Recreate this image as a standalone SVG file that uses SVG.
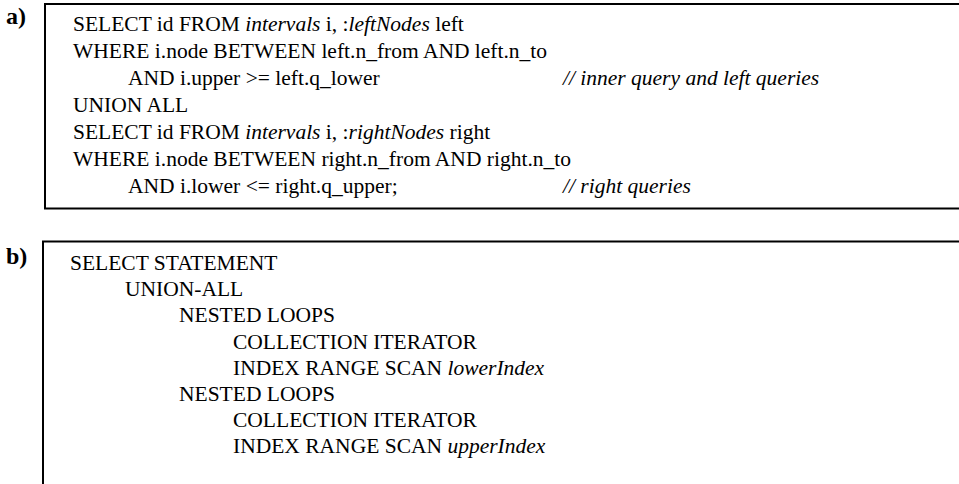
<svg xmlns="http://www.w3.org/2000/svg" width="959" height="484" viewBox="0 0 959 484">
  <style>
    .frame { fill: none; stroke: #000; stroke-width: 2; }
    .label { font-family: "Liberation Serif", "Times New Roman", serif; font-weight: bold; font-size: 24px; fill: #000; }
    .code { font-family: "Liberation Serif", "Times New Roman", serif; font-size: 21.5px; fill: #000; }
    .it { font-style: italic; }
  </style>
  <rect width="959" height="484" fill="#fff"/>

  <!-- a) SQL query panel -->
  <g id="panel-a">
    <text class="label" x="6" y="24">a)</text>
    <path class="frame" d="M 961 4 H 45 V 208.5 H 961"/>
    <text class="code" x="73" y="31">SELECT id FROM <tspan class="it">intervals</tspan> i, :<tspan class="it">leftNodes</tspan> left</text>
    <text class="code" x="73" y="58">WHERE i.node BETWEEN left.n_from AND left.n_to</text>
    <text class="code" x="128" y="85">AND i.upper &gt;= left.q_lower</text>
    <text class="code it" x="563" y="85">// inner query and left queries</text>
    <text class="code" x="73" y="112">UNION ALL</text>
    <text class="code" x="73" y="139">SELECT id FROM <tspan class="it">intervals</tspan> i, :<tspan class="it">rightNodes</tspan> right</text>
    <text class="code" x="73" y="166">WHERE i.node BETWEEN right.n_from AND right.n_to</text>
    <text class="code" x="128" y="193">AND i.lower &lt;= right.q_upper;</text>
    <text class="code it" x="563" y="193">// right queries</text>
  </g>

  <!-- b) execution plan panel -->
  <g id="panel-b">
    <text class="label" x="6" y="264">b)</text>
    <path class="frame" d="M 961 241.5 H 43 V 486"/>
    <text class="code" x="70" y="270">SELECT STATEMENT</text>
    <text class="code" x="125" y="296.2">UNION-ALL</text>
    <text class="code" x="179" y="322.4">NESTED LOOPS</text>
    <text class="code" x="233" y="348.6">COLLECTION ITERATOR</text>
    <text class="code" x="233" y="374.8">INDEX RANGE SCAN <tspan class="it">lowerIndex</tspan></text>
    <text class="code" x="179" y="401">NESTED LOOPS</text>
    <text class="code" x="233" y="427.2">COLLECTION ITERATOR</text>
    <text class="code" x="233" y="453.4">INDEX RANGE SCAN <tspan class="it">upperIndex</tspan></text>
  </g>
</svg>
